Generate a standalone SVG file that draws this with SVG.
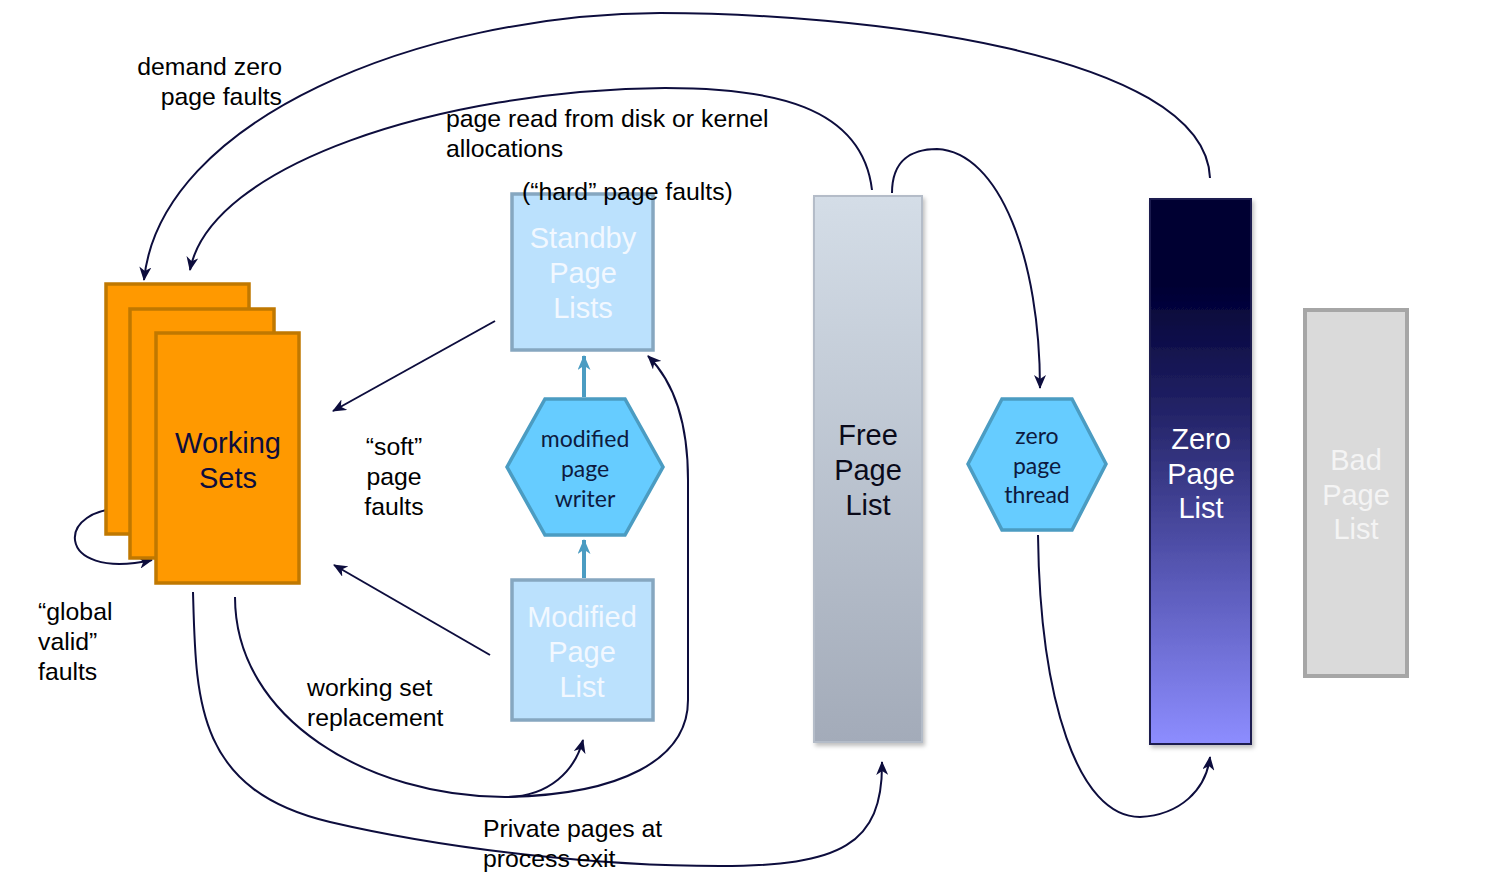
<svg xmlns="http://www.w3.org/2000/svg" width="1491" height="875" viewBox="0 0 1491 875">
<style>
.t{font-family:"Liberation Sans",Arial,sans-serif;font-size:24.8px;fill:#000000}
.nt{font-family:"Liberation Sans",Arial,sans-serif;font-size:29px;text-anchor:middle}
.ht{font-family:Lato,"Liberation Sans",sans-serif;font-size:23px;fill:#0d1a40;text-anchor:middle}
.ws{fill:#ff9900;stroke:#c07800;stroke-width:3.5}
.lb{fill:#bbe1fd;stroke:#86a7c0;stroke-width:3.5}
.hex{fill:#66ccff;stroke:#4b9cc2;stroke-width:3.5}
.c{fill:none;stroke:#0d0d3d;stroke-width:2;marker-end:url(#ah)}
.b{fill:none;stroke:#4b9cc2;stroke-width:4;marker-end:url(#bh)}
</style>
<defs>
<marker id="ah" viewBox="0 0 14 12" refX="13" refY="6" markerWidth="14" markerHeight="12" markerUnits="userSpaceOnUse" orient="auto">
<path d="M0,0 L14,6 L0,12 L4,6 Z" fill="#0d0d3d"/>
</marker>
<marker id="bh" viewBox="0 0 14 12" refX="13" refY="6" markerWidth="16" markerHeight="13" markerUnits="userSpaceOnUse" orient="auto">
<path d="M0,0 L14,6 L0,12 L4,6 Z" fill="#4b9cc2"/>
</marker>
<linearGradient id="gFree" x1="0" y1="0" x2="0" y2="1">
<stop offset="0" stop-color="#d4dde7"/>
<stop offset="1" stop-color="#a3abb9"/>
</linearGradient>
<linearGradient id="gZero" x1="0" y1="0" x2="0" y2="1">
<stop offset="0" stop-color="#000033"/>
<stop offset="0.16" stop-color="#000033"/>
<stop offset="0.4" stop-color="#25256a"/>
<stop offset="0.7" stop-color="#5a5ab8"/>
<stop offset="1" stop-color="#8d8dff"/>
</linearGradient>
<filter id="sh" x="-20%" y="-5%" width="150%" height="115%">
<feDropShadow dx="2" dy="3" stdDeviation="2" flood-color="#000" flood-opacity="0.25"/>
</filter>
</defs>

<g id="connectors">
<path class="c" d="M1210,178 C1205,50 850,13 660,13 C420,14 160,120 144,280"/>
<path class="c" d="M872,190 C862,105 770,88 665,88 C440,90 210,165 190,270"/>
<path class="c" d="M892,193 C892,160 912,149 937,149 C1000,152 1040,260 1040,388"/>
<path class="c" d="M495,321 L333,411"/>
<path class="c" d="M490,655 L334,565"/>
<path class="c" d="M128,509 C55,504 52,582 152,560"/>
<path class="c" d="M235,597 C235,720 370,797 505,797 C550,797 575,770 583,740"/>
<path class="c" d="M505,797 C620,795 688,760 688,700 L688,480 C688,420 672,380 648,356"/>
<path class="c" d="M193,592 C196,700 195,790 330,822 C450,850 600,866 720,866 C840,866 883,845 882,762"/>
<path class="c" d="M1038,535 C1040,700 1078,817 1140,817 C1180,815 1206,790 1210,757"/>
<path class="b" d="M584,397 L584,356"/>
<path class="b" d="M584,578 L584,540"/>
</g>

<g id="working-sets">
<rect class="ws" x="106" y="284" width="143" height="250"/>
<rect class="ws" x="130" y="309" width="144" height="249"/>
<rect class="ws" x="156" y="333" width="143" height="250"/>
<text class="nt" x="228" y="453" fill="#0d0d3d">Working</text>
<text class="nt" x="228" y="488" fill="#0d0d3d">Sets</text>
</g>

<g id="standby">
<rect class="lb" x="512" y="194" width="141" height="156"/>
<text class="nt" x="583" y="248" fill="#f2f8ff">Standby</text>
<text class="nt" x="583" y="283" fill="#f2f8ff">Page</text>
<text class="nt" x="583" y="318" fill="#f2f8ff">Lists</text>
</g>

<g id="modified-page-writer">
<polygon class="hex" points="507,467 545,399 625,399 663,467 625,535 545,535"/>
<text class="ht" x="585" y="447">modified</text>
<text class="ht" x="585" y="477">page</text>
<text class="ht" x="585" y="507">writer</text>
</g>

<g id="modified">
<rect class="lb" x="512" y="580" width="141" height="140"/>
<text class="nt" x="582" y="627" fill="#f2f8ff">Modified</text>
<text class="nt" x="582" y="662" fill="#f2f8ff">Page</text>
<text class="nt" x="582" y="697" fill="#f2f8ff">List</text>
</g>

<g id="free">
<rect x="814" y="196" width="108" height="546" fill="url(#gFree)" stroke="#b4bcc8" stroke-width="2" filter="url(#sh)"/>
<text class="nt" x="868" y="445" fill="#0a0a1a">Free</text>
<text class="nt" x="868" y="480" fill="#0a0a1a">Page</text>
<text class="nt" x="868" y="515" fill="#0a0a1a">List</text>
</g>

<g id="zero-page-thread">
<polygon class="hex" points="968,464 1002,399 1072,399 1106,464 1072,530 1002,530"/>
<text class="ht" x="1037" y="444" font-size="22.5">zero</text>
<text class="ht" x="1037" y="474" font-size="22.5">page</text>
<text class="ht" x="1037" y="503" font-size="22.5">thread</text>
</g>

<g id="zero">
<rect x="1150" y="199" width="101" height="545" fill="url(#gZero)" stroke="#1a1a50" stroke-width="2" filter="url(#sh)"/>
<text class="nt" x="1201" y="449" fill="#ffffff">Zero</text>
<text class="nt" x="1201" y="484" fill="#ffffff">Page</text>
<text class="nt" x="1201" y="518" fill="#ffffff">List</text>
</g>

<g id="bad">
<rect x="1305" y="310" width="102" height="366" fill="#dadada" stroke="#a6a6a6" stroke-width="4"/>
<text class="nt" x="1356" y="470" fill="#f4f4f4">Bad</text>
<text class="nt" x="1356" y="505" fill="#f4f4f4">Page</text>
<text class="nt" x="1356" y="539" fill="#f4f4f4">List</text>
</g>

<g id="labels">
<text class="t" x="282" y="75" text-anchor="end">demand zero</text>
<text class="t" x="282" y="105" text-anchor="end">page faults</text>
<text class="t" x="446" y="127">page read from disk or kernel</text>
<text class="t" x="446" y="157">allocations</text>
<text class="t" x="522" y="200">(“hard” page faults)</text>
<text class="t" x="394" y="455" text-anchor="middle">“soft”</text>
<text class="t" x="394" y="485" text-anchor="middle">page</text>
<text class="t" x="394" y="515" text-anchor="middle">faults</text>
<text class="t" x="38" y="620">“global</text>
<text class="t" x="38" y="650">valid”</text>
<text class="t" x="38" y="680">faults</text>
<text class="t" x="307" y="696">working set</text>
<text class="t" x="307" y="726">replacement</text>
<text class="t" x="483" y="837">Private pages at</text>
<text class="t" x="483" y="867">process exit</text>
</g>
</svg>
